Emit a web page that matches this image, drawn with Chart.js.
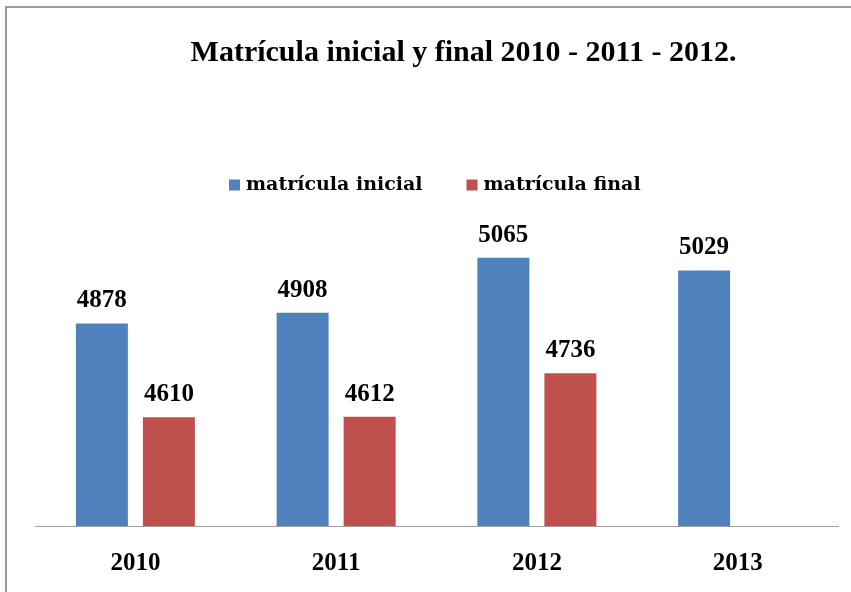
<!DOCTYPE html>
<html>
<head>
<meta charset="utf-8">
<script src="https://cdn.jsdelivr.net/npm/chart.js@4/dist/chart.umd.min.js"></script>
<style>
  html, body { margin: 0; padding: 0; background: #ffffff; }
  #wrap { width: 851px; height: 592px; }
</style>
</head>
<body>
<div id="wrap"><canvas id="c" width="851" height="592"></canvas></div>
<script>
const categories = ["2010", "2011", "2012", "2013"];
const seriesNames = ["matrícula inicial", "matrícula final"];
const matriculaInicial = [4878, 4908, 5065, 5029];
const matriculaFinal = [4610, 4612, 4736, null];
const titleText = "Matrícula inicial y final 2010 - 2011 - 2012.";
const colors = ["#4F81BD", "#C0504D"];

const decor = {
  id: 'decor',
  afterDatasetsDraw(chart) {
    const ctx = chart.ctx;
    ctx.save();
    ctx.fillStyle = '#000';
    ctx.font = 'bold 25px "Liberation Serif"';
    ctx.textAlign = 'center';
    ctx.textBaseline = 'alphabetic';
    chart.data.datasets.forEach((ds, di) => {
      const meta = chart.getDatasetMeta(di);
      meta.data.forEach((el, i) => {
        const v = ds.data[i];
        if (v === null || v === undefined) return;
        ctx.fillText(String(v), el.x, el.y - 16);
      });
    });
    ctx.restore();
  },
  afterDraw(chart) {
    const ctx = chart.ctx;
    ctx.save();
    // frame
    ctx.strokeStyle = '#9a9a9a';
    ctx.lineWidth = 2;
    ctx.beginPath();
    ctx.moveTo(6, 592);
    ctx.lineTo(6, 7);
    ctx.lineTo(851, 7);
    ctx.stroke();
    // title
    ctx.fillStyle = '#000';
    ctx.font = 'bold 30px "Liberation Serif"';
    ctx.textAlign = 'center';
    ctx.textBaseline = 'alphabetic';
    ctx.fillText(titleText, 463.5, 61);
    // legend
    ctx.font = 'bold 19px "DejaVu Serif"';
    ctx.textAlign = 'left';
    ctx.textBaseline = 'middle';
    let x = 229;
    const yc = 185;
    seriesNames.forEach((name, i) => {
      ctx.fillStyle = colors[i];
      ctx.fillRect(x, yc - 5.5, 11, 11);
      ctx.fillStyle = '#000';
      ctx.fillText(name, x + 17, yc);
      x += 17 + ctx.measureText(name).width + 44;
    });
    ctx.restore();
  }
};

new Chart(document.getElementById('c'), {
  type: 'bar',
  data: {
    labels: categories,
    datasets: [
      { label: seriesNames[0], data: matriculaInicial, backgroundColor: colors[0],
        categoryPercentage: 0.6675, barPercentage: 0.776 },
      { label: seriesNames[1], data: matriculaFinal, backgroundColor: colors[1],
        categoryPercentage: 0.6675, barPercentage: 0.776 }
    ]
  },
  options: {
    responsive: false,
    animation: false,
    layout: { padding: { left: 35, right: 13, top: 210.5, bottom: -10 } },
    plugins: {
      legend: { display: false },
      title: { display: false },
      tooltip: { enabled: false }
    },
    scales: {
      x: {
        grid: { display: false, drawTicks: false },
        border: { display: true, color: '#a0a0a0', width: 1 },
        ticks: {
          color: '#000',
          padding: 23,
          font: { family: '"Liberation Serif"', size: 25, weight: 'bold' }
        }
      },
      y: {
        display: false,
        min: 4300,
        max: 5200
      }
    }
  },
  plugins: [decor]
});
</script>
</body>
</html>
